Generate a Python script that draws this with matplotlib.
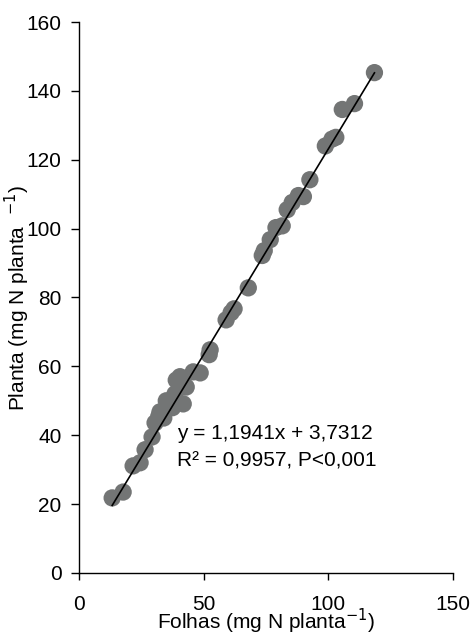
import numpy as np
import matplotlib.pyplot as plt

plt.rcParams['font.family'] = ['Liberation Sans', 'DejaVu Sans']

# N nas folhas vs N na planta (mg N planta-1)
folhas = [13.3, 17.7, 21.7, 24.5, 26.5, 29.3, 30.5, 32.0, 32.5, 34.0, 35.0, 36.5,
          37.5, 38.5, 39.0, 40.5, 41.8, 43.0, 45.8, 48.6, 52.2, 52.6, 59.0, 61.0,
          62.2, 67.9, 73.5, 74.3, 76.7, 79.0, 81.5, 83.5, 85.5, 88.0, 90.0, 92.6,
          98.8, 101.5, 103.0, 105.6, 110.5, 118.5]
planta = [21.8, 23.5, 31.1, 32.0, 35.8, 39.5, 43.6, 45.5, 46.8, 45.0, 50.0, 49.4,
          48.0, 52.0, 56.0, 57.0, 49.1, 54.0, 58.4, 58.1, 63.4, 64.8, 73.5, 75.6,
          76.7, 82.8, 92.2, 93.6, 96.8, 100.3, 100.8, 105.5, 107.6, 109.6, 109.3, 114.2,
          124.0, 126.0, 126.5, 134.6, 136.3, 145.3]

a, b = 1.1941, 3.7312
x_fit = np.array([min(folhas), max(folhas)])

fig = plt.figure(figsize=(4.72, 6.36), dpi=100)
ax = fig.add_axes([0.1674, 0.0991, 0.7923, 0.8663])

ax.scatter(folhas, planta, s=155, color='#737575', edgecolors='none', zorder=2)
ax.plot(x_fit, a * x_fit + b, color='black', lw=1.2, zorder=3)

ax.set_xlim(0, 150)
ax.set_ylim(0, 160)
ax.set_xticks([0, 50, 100, 150])
ax.set_yticks(range(0, 161, 20))
ax.spines['top'].set_visible(False)
ax.spines['right'].set_visible(False)
for s in ['left', 'bottom']:
    ax.spines[s].set_linewidth(1.0)
ax.tick_params(axis='x', direction='out', length=5, width=1, pad=11, labelsize=15)
ax.tick_params(axis='y', direction='out', length=5.5, width=1, pad=7, labelsize=15)

ax.set_xlabel('Folhas (mg N planta$^{-1}$)', fontsize=15)
ax.xaxis.set_label_coords(0.5, -0.062)
ax.set_ylabel('Planta (mg N planta  $^{-1}$)', fontsize=15)
ax.yaxis.set_label_coords(-0.125, 0.5)

ax.text(0.262, 0.243, 'y = 1,1941x + 3,7312', transform=ax.transAxes, fontsize=15)
ax.text(0.262, 0.193, 'R² = 0,9957, P<0,001', transform=ax.transAxes, fontsize=15)

fig.savefig('out.png', dpi=100)
